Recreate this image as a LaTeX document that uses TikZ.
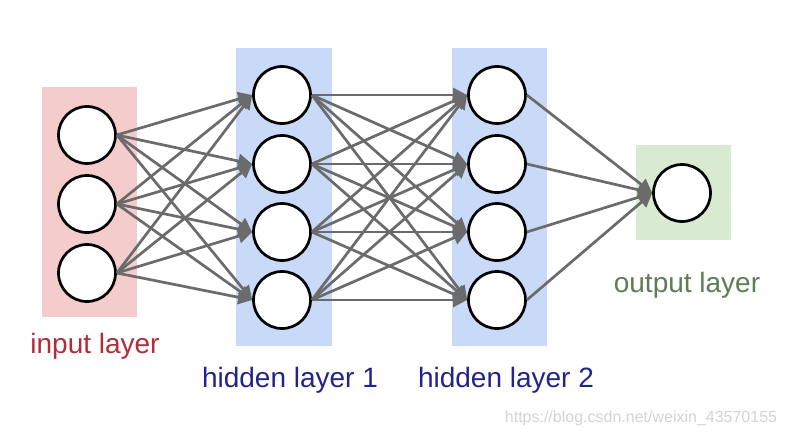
\documentclass[tikz,border=0pt]{standalone}
\usepackage{fontspec}
\setmainfont{Liberation Sans}
\usetikzlibrary{arrows.meta}
\definecolor{inbg}{HTML}{F4CCCC}
\definecolor{hidbg}{HTML}{C9DAF8}
\definecolor{outbg}{HTML}{D9EAD3}
\definecolor{edgecol}{HTML}{6B6B6B}
\definecolor{inlbl}{HTML}{B22D3C}
\definecolor{hidlbl}{HTML}{23238E}
\definecolor{outlbl}{HTML}{5E7D55}
\definecolor{wm}{HTML}{D4D4D4}
\tikzset{
  neuron/.style={circle, draw=black, fill=white, line width=2.7pt, minimum size=57pt, inner sep=0pt},
  conn/.style={draw=edgecol, line width=2.7pt, -{Triangle[length=14pt,width=14pt]}},
  lbl/.style={font=\fontsize{28}{30}\selectfont, anchor=base, inner sep=0pt},
  wmark/.style={font=\fontsize{16}{18}\selectfont, text=wm, anchor=base, inner sep=0pt}
}
\begin{document}
\begin{tikzpicture}[x=1pt,y=-1pt]
\useasboundingbox (0,0) rectangle (787,436);
\fill[white] (0,0) rectangle (787,436);
% layer backgrounds
\fill[inbg] (42,87) rectangle (137,317);
\fill[hidbg] (236,48) rectangle (332,346);
\fill[hidbg] (452,48) rectangle (547,346);
\fill[outbg] (636,145) rectangle (731,240);
% neurons
\foreach \i/\y in {1/135,2/204,3/273} \node[neuron] (i\i) at (87,\y) {};
\foreach \i/\y in {1/95,2/164,3/232,4/300} {
  \node[neuron] (a\i) at (282,\y) {};
  \node[neuron] (b\i) at (497,\y) {};
}
\node[neuron] (o1) at (682,193) {};
% connections
\foreach \s in {1,2,3} \foreach \t in {1,2,3,4} \draw[conn] (i\s.east) -- (a\t.west);
\foreach \s in {1,2,3,4} \foreach \t in {1,2,3,4} \draw[conn] (a\s.east) -- (b\t.west);
\foreach \s in {1,2,3,4} \draw[conn] (b\s.east) -- (o1.west);
% labels
\node[lbl, text=inlbl] (lin) at (95,353) {input layer};
\node[lbl, text=hidlbl] (lh1) at (290,387) {hidden layer 1};
\node[lbl, text=hidlbl] (lh2) at (506,387) {hidden layer 2};
\node[lbl, text=outlbl] (lout) at (687,292) {output layer};
\node[wmark] (wmk) at (641,422) {https://blog.csdn.net/weixin\_43570155};
\end{tikzpicture}
\end{document}
